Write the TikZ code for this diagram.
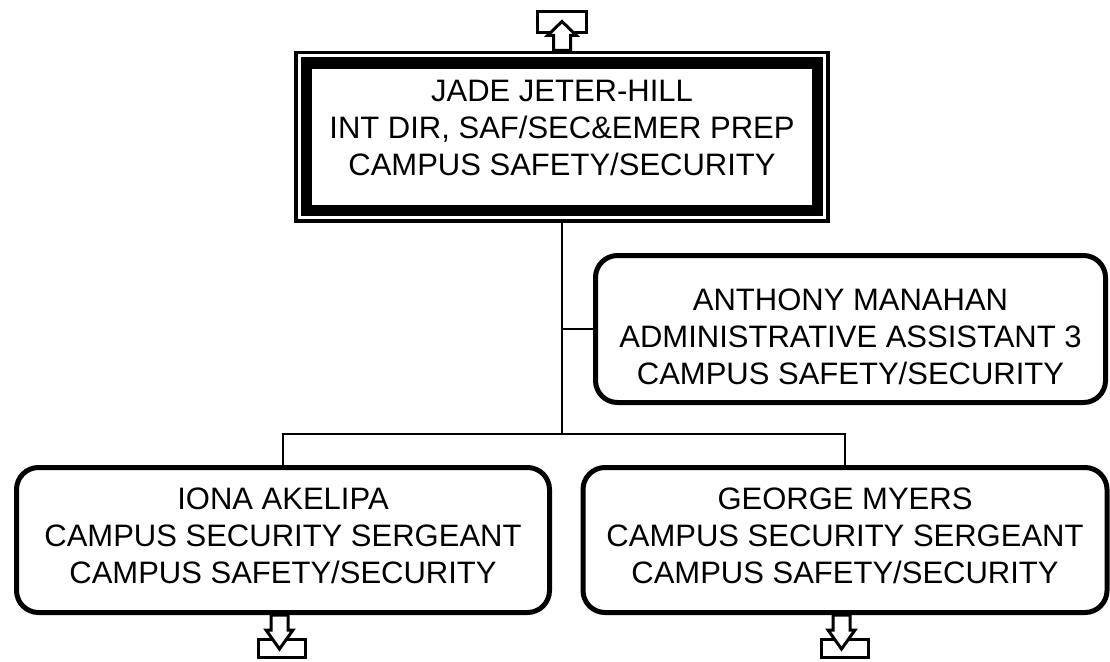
\documentclass[tikz,border=0pt]{standalone}
\usepackage{fontspec}
\setmainfont{Liberation Sans}
\usetikzlibrary{fit}
\begin{document}
\begin{tikzpicture}[x=1pt,y=-1pt,
  txt/.style={align=center, font=\fontsize{31}{37}\selectfont, inner sep=0pt},
  box/.style={draw, line width=5pt, rounded corners=22pt, outer sep=0pt, inner sep=0pt},
  link/.style={line width=2pt},
  sym/.style={draw, line width=3pt, fill=white, line join=miter}]
\useasboundingbox (0,0) rectangle (1110,661);

\node[draw, line width=11pt, minimum width=511pt, minimum height=147.5pt,
      outer sep=0pt, inner sep=0pt] (top) at (562,136.75) {};
\node[txt, yshift=9pt] (topt) at (top.center)
  {JADE JETER-HILL\\INT DIR, SAF/SEC\&EMER PREP\\CAMPUS SAFETY/SECURITY};
\node[fit=(top), inner sep=10.5pt, draw, line width=3.5pt, outer sep=0pt] (topo) {};

\node[box, minimum width=510pt, minimum height=147pt] (anth) at (850.5,329) {};
\node[txt, yshift=-8pt] (antht) at (anth.center)
  {ANTHONY MANAHAN\\ADMINISTRATIVE ASSISTANT 3\\CAMPUS SAFETY/SECURITY};
\node[box, minimum width=533pt, minimum height=145pt] (iona) at (283,540) {};
\node[txt, yshift=4pt] (ionat) at (iona.center)
  {IONA AKELIPA\\CAMPUS SECURITY SERGEANT\\CAMPUS SAFETY/SECURITY};
\node[box, minimum width=524pt, minimum height=145pt] (george) at (845,540) {};
\node[txt, yshift=4pt] (georget) at (george.center)
  {GEORGE MYERS\\CAMPUS SECURITY SERGEANT\\CAMPUS SAFETY/SECURITY};

\coordinate (j) at (562,434);
\draw[link] (topo.south) -- (topo.south |- j);
\draw[link] (topo.south |- anth) -- (anth.west);
\draw[link] (iona.north) -- (iona.north |- j) -- (george.north |- j) -- (george.north);

% up arrow above top box
\begin{scope}[shift={(topo.north)}]
  \draw[sym] (-24.5,-41) rectangle (24.5,-20);
  \draw[sym] (-8.5,-2) -- (-8.5,-17) -- (-14.5,-17) -- (0,-31) -- (14.5,-17) -- (8.5,-17) -- (8.5,-2) -- cycle;
\end{scope}
% down arrows below bottom boxes
\begin{scope}[shift={(iona.south)}]
  \draw[sym] (-25,26.5) rectangle (22,44.5);
  \draw[sym] (-12,2.5) -- (-12,17.5) -- (-17,17.5) -- (-3.5,36.5) -- (10,17.5) -- (5,17.5) -- (5,2.5) -- cycle;
\end{scope}
\begin{scope}[shift={(george.south)}]
  \draw[sym] (-24,26.5) rectangle (23,44.5);
  \draw[sym] (-12,2.5) -- (-12,17.5) -- (-17,17.5) -- (-3.5,36.5) -- (10,17.5) -- (5,17.5) -- (5,2.5) -- cycle;
\end{scope}
\end{tikzpicture}
\end{document}
